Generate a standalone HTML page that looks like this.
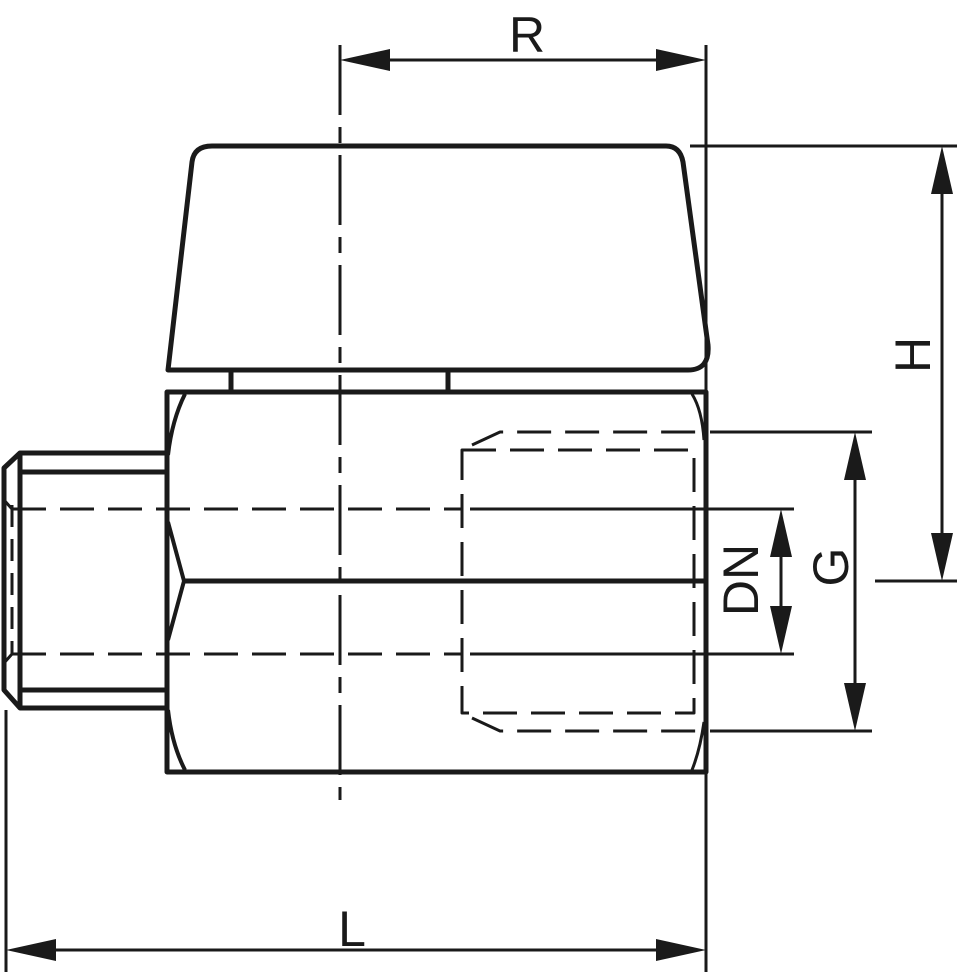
<!DOCTYPE html>
<html><head><style>html,body{margin:0;padding:0;background:#fff}svg{display:block}</style></head>
<body>
<svg width="957" height="972" viewBox="0 0 957 972" xmlns="http://www.w3.org/2000/svg">
<g fill="none" stroke="#1a1a1a" stroke-linecap="butt" stroke-linejoin="round">
<path d="M168,370 L192,162 Q194,146 212,146 L666,146 Q680,146 683,162 L708,345 Q710,370 688,370 Z" stroke-width="5"/>
<line x1="231" y1="372" x2="231" y2="392" stroke-width="5"/>
<line x1="448" y1="372" x2="448" y2="392" stroke-width="5"/>
<rect x="167" y="392" width="539" height="380" stroke-width="5"/>
<line x1="185" y1="581" x2="704" y2="581" stroke-width="5"/>
<path d="M185,394 Q172,420 168,455" stroke-width="4"/>
<path d="M168,522 L184,581 L168,640" stroke-width="4"/>
<path d="M168,710 Q172,745 185,770" stroke-width="4"/>
<path d="M692,394 Q702,410 704,440" stroke-width="3"/>
<path d="M704,722 Q700,750 692,770" stroke-width="3"/>
<path d="M167,453 L20,453 L4,468 L4,690 L20,708 L167,708" stroke-width="5"/>
<line x1="20" y1="453" x2="20" y2="708" stroke-width="5"/>
<line x1="20" y1="472" x2="167" y2="472" stroke-width="5"/>
<line x1="20" y1="690" x2="167" y2="690" stroke-width="5"/>
<line x1="12" y1="505" x2="12" y2="655" stroke-width="3" stroke-dasharray="22,12"/>
<line x1="4" y1="500" x2="12" y2="509" stroke-width="3"/>
<line x1="4" y1="663" x2="12" y2="654" stroke-width="3"/>
<line x1="12" y1="509" x2="462" y2="509" stroke-width="3" stroke-dasharray="34,14"/>
<line x1="12" y1="654" x2="462" y2="654" stroke-width="3" stroke-dasharray="34,14"/>
<line x1="470" y1="509" x2="794" y2="509" stroke-width="3"/>
<line x1="470" y1="654" x2="794" y2="654" stroke-width="3"/>
<path d="M472,445 L500,432 L700,432" stroke-width="3" stroke-dasharray="34,14"/>
<path d="M472,718 L500,731 L700,731" stroke-width="3" stroke-dasharray="34,14"/>
<rect x="462" y="450" width="232" height="263" stroke-width="3" stroke-dasharray="34,14"/>
<line x1="340" y1="45" x2="340" y2="800" stroke-width="3" stroke-dasharray="70,12,16,12"/>
<line x1="706" y1="45" x2="706" y2="972" stroke-width="3"/>
<line x1="6" y1="710" x2="6" y2="972" stroke-width="3"/>
<line x1="690" y1="146" x2="957" y2="146" stroke-width="3"/>
<line x1="875" y1="581" x2="957" y2="581" stroke-width="3"/>
<line x1="710" y1="432" x2="872" y2="432" stroke-width="3"/>
<line x1="710" y1="731" x2="872" y2="731" stroke-width="3"/>
<line x1="350" y1="60" x2="696" y2="60" stroke-width="3"/>
<line x1="16" y1="950" x2="696" y2="950" stroke-width="3"/>
<line x1="942" y1="156" x2="942" y2="571" stroke-width="3"/>
<line x1="855" y1="442" x2="855" y2="721" stroke-width="3"/>
<line x1="781" y1="519" x2="781" y2="644" stroke-width="3"/>
</g>
<g fill="#1a1a1a">
<polygon points="340,60 390,49 390,71"/>
<polygon points="706,60 656,49 656,71"/>
<polygon points="6,950 56,939 56,961"/>
<polygon points="706,950 656,939 656,961"/>
<polygon points="942,146 931,194 953,194"/>
<polygon points="942,581 931,533 953,533"/>
<polygon points="855,432 844,480 866,480"/>
<polygon points="855,731 844,683 866,683"/>
<polygon points="781,509 770,557 792,557"/>
<polygon points="781,654 770,606 792,606"/>
</g>
<g font-family="'Liberation Sans', sans-serif" font-size="50" fill="#1a1a1a" text-anchor="middle">
<text x="527" y="52">R</text>
<text x="352" y="946">L</text>
<text transform="translate(930,355) rotate(-90)">H</text>
<text transform="translate(758,580) rotate(-90)">DN</text>
<text transform="translate(848,567) rotate(-90)">G</text>
</g>
</svg>
</body></html>
